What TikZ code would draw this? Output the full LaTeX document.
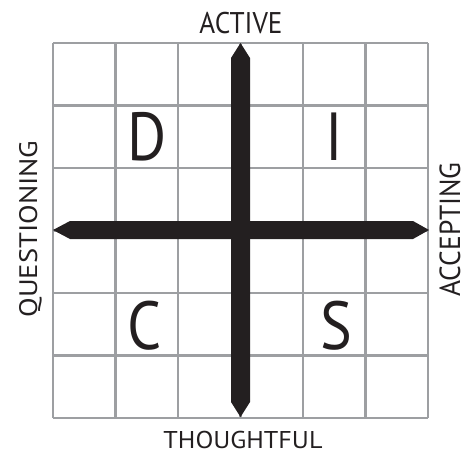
\documentclass[tikz,border=0pt]{standalone}
\usepackage{fontspec}
\usepackage{graphicx}
\setmainfont{PT Sans}
\definecolor{ink}{HTML}{231F20}
\definecolor{gridgray}{HTML}{9D9FA2}
\begin{document}
\begin{tikzpicture}[x=1pt,y=-1pt,
  gridline/.style={draw=gridgray,line width=2.6pt},
  axisarrow/.style={fill=ink,draw=none},
  axislabel/.style={inner sep=0pt,anchor=base,text=ink},
  quadletter/.style={inner sep=0pt,anchor=base,text=ink,font=\fontsize{68}{70}\selectfont}]
\useasboundingbox (0,0) rectangle (473,455);
% grid
\foreach \i in {0,...,6} {
  \draw[gridline] ({53+\i*62.5},43) -- ({53+\i*62.5},418);
  \draw[gridline] (53,{43+\i*62.5}) -- (428,{43+\i*62.5});
}
% vertical arrow
\fill[axisarrow] (240.5,43) -- (250,58) -- (250,402) -- (240.5,417) -- (231,402) -- (231,58) -- cycle;
% horizontal arrow
\fill[axisarrow] (53,230) -- (70,221) -- (413,221) -- (429,230) -- (413,239) -- (70,239) -- cycle;
% labels
\node[axislabel] (active) at (241,33.3) {\resizebox{83pt}{21.3pt}{ACTIVE}};
\node[axislabel] (thoughtful) at (243,448) {\resizebox{159pt}{17.3pt}{THOUGHTFUL}};
\node[axislabel,rotate=90] (questioning) at (37,229) {\resizebox{177pt}{18pt}{QUESTIONING}};
\node[axislabel,rotate=90] (accepting) at (460,229.5) {\resizebox{134pt}{20.7pt}{ACCEPTING}};
% quadrant letters
\node[quadletter] (d) at (147,160) {\scalebox{0.88}[1]{D}};
\node[quadletter] (i) at (334.5,160) {\scalebox{0.88}[1]{I}};
\node[quadletter] (c) at (144.5,349) {\scalebox{0.88}[1]{C}};
\node[quadletter] (s) at (336,349) {\scalebox{0.88}[1]{S}};
\end{tikzpicture}
\end{document}
